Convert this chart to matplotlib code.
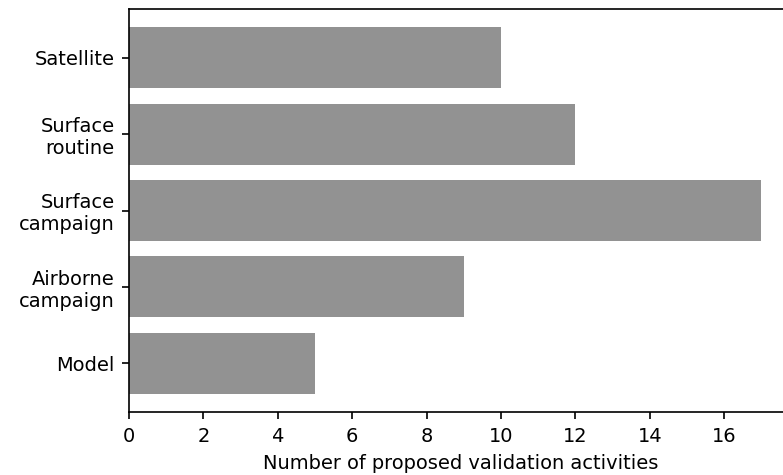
import matplotlib
matplotlib.use("Agg")
from matplotlib import pyplot as plt

categories = ["Satellite", "Surface\nroutine", "Surface\ncampaign", "Airborne\ncampaign", "Model"]
counts = [10, 12, 17, 9, 5]

plt.rcParams["font.size"] = 9.3

fig = plt.figure(figsize=(783 / 150, 475 / 150), dpi=150)
# axes runs past the right edge of the figure, like the cropped original
ax = fig.add_axes([129 / 783, 63 / 475, 664 / 783, 403 / 475])

ypos = list(range(len(categories)))
ax.barh(ypos, counts, color="#929292")
ax.set_yticks(ypos)
ax.set_yticklabels(categories)
ax.invert_yaxis()
ax.set_xlabel("Number of proposed validation activities")

fig.savefig("out.png", dpi=150)
